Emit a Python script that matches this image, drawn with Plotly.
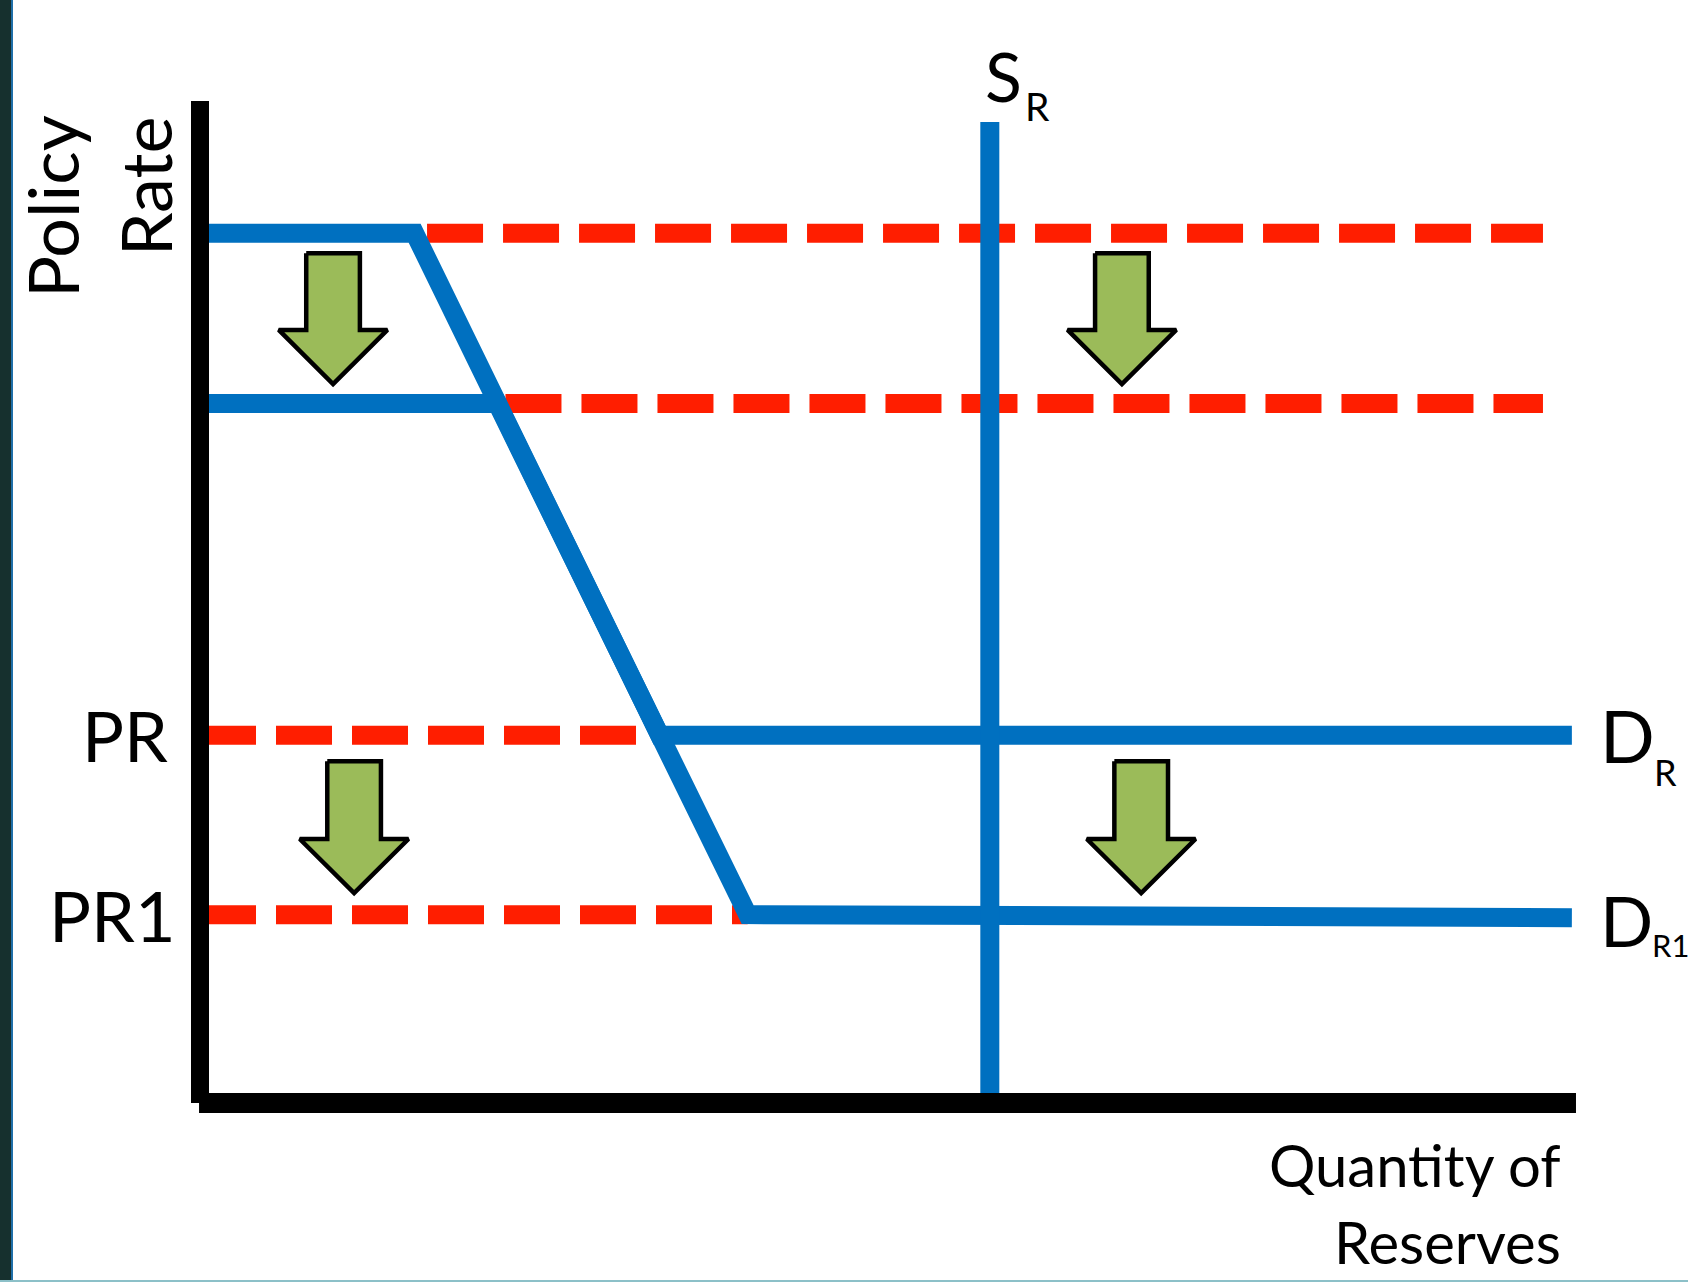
import plotly.graph_objects as go

# ---------------- data (conceptual units: quantity 0..100, rate 0..100) ----------------
# Demand for reserves before (D_R) and after (D_R1) the policy-rate cut
dr_x = [0, 15.6, 33.4, 99.7]
dr_y = [86.8, 86.8, 36.7, 36.7]
dr1_x = [0, 21.6, 39.8, 99.7]
dr1_y = [69.8, 69.8, 18.8, 18.5]

# Supply of reserves (vertical)
sr_x = [57.4, 57.4]
sr_y = [0, 97.9]

# Red dashed reference levels
ref_x0 = [16.5, 22.2, 0.0, 0.0]
ref_x1 = [97.6, 97.6, 33.4, 39.8]
ref_level = [86.8, 69.8, 36.7, 18.8]

# Downward shift arrows: x positions and (from level, to level)
arrow_x = [9.67, 67.0, 11.2, 68.4]
arrow_from = [86.8, 86.8, 36.7, 36.7]
arrow_to = [69.8, 69.8, 18.8, 18.8]

tick_labels = ["PR", "PR1"]
tick_values = [36.7, 18.8]

# ---------------- figure ----------------
W, H = 1688, 1282
BLUE = "#0070C0"
RED = "#FF1E00"
GREEN = "#9BBB59"
FONT = "Lato"

x_range = [-14.535, 108.14]
y_range = [-17.864, 110.08]

fig = go.Figure()

# red dashed lines (below blue)
for x0, x1, lv in zip(ref_x0, ref_x1, ref_level):
    fig.add_trace(go.Scatter(x=[x0, x1], y=[lv, lv], mode="lines",
                             line=dict(color=RED, width=19, dash="56px,20px"),
                             hoverinfo="skip", showlegend=False))

# demand curves
fig.add_trace(go.Scatter(x=dr_x, y=dr_y, mode="lines",
                         line=dict(color=BLUE, width=19), hoverinfo="skip", showlegend=False))
fig.add_trace(go.Scatter(x=dr1_x, y=dr1_y, mode="lines",
                         line=dict(color=BLUE, width=19), hoverinfo="skip", showlegend=False))
# supply
fig.add_trace(go.Scatter(x=sr_x, y=sr_y, mode="lines",
                         line=dict(color=BLUE, width=19), hoverinfo="skip", showlegend=False))

# axes lines
fig.add_trace(go.Scatter(x=[0, 0], y=[100, 0], mode="lines",
                         line=dict(color="black", width=18), hoverinfo="skip", showlegend=False))
fig.add_trace(go.Scatter(x=[-0.07, 100], y=[0, 0], mode="lines",
                         line=dict(color="black", width=20), hoverinfo="skip", showlegend=False))

# arrows
sw, hw, hh = 1.95, 3.95, 5.4
for i, (cx, yf, yt) in enumerate(zip(arrow_x, arrow_from, arrow_to)):
    ytop = yf - (2.0 if i < 2 else 2.6)
    ytip = yt + (1.95 if i < 2 else 2.15)
    xs = [cx - sw, cx + sw, cx + sw, cx + hw, cx, cx - hw, cx - sw, cx - sw]
    ys = [ytop, ytop, ytip + hh, ytip + hh, ytip, ytip + hh, ytip + hh, ytop]
    fig.add_trace(go.Scatter(x=xs, y=ys, mode="lines", fill="toself", fillcolor=GREEN,
                             line=dict(color="black", width=4.5), hoverinfo="skip",
                             showlegend=False))

ann = []
def txt(x, y, t, size, xa="center", ya="middle", angle=0):
    ann.append(dict(x=x, y=y, xref="x", yref="y", text=t, showarrow=False,
                    xanchor=xa, yanchor=ya, textangle=angle,
                    font=dict(family=FONT, size=size, color="black")))

# axis titles
txt(-10.76, 89.52, "Policy", 70, angle=-90)
txt(-3.98, 91.52, "Rate", 70, angle=-90)
txt(99.06, -6.09, "Quantity of", 58, xa="right")
txt(99.06, -13.87, "Reserves", 58, xa="right")

# rate labels
txt(-2.2, tick_values[0], tick_labels[0], 70, xa="right")
txt(-1.6, tick_values[1], tick_labels[1], 70, xa="right")

# curve labels
txt(56.9, 102.5, "S", 68, xa="left")
txt(59.8, 99.5, "R", 39, xa="left")
txt(101.6, 36.7, "D", 72, xa="left")
txt(105.5, 33.0, "R", 36, xa="left")
txt(101.6, 18.26, "D", 70, xa="left")
txt(105.4, 15.77, "R1", 31, xa="left")

shapes = [
    dict(type="rect", xref="paper", yref="paper", x0=0, x1=11 / W, y0=0, y1=1,
         fillcolor="#16302E", line=dict(width=0), layer="above"),
    dict(type="rect", xref="paper", yref="paper", x0=11 / W, x1=13 / W, y0=0, y1=1,
         fillcolor="#1F6FA8", line=dict(width=0), layer="above"),
    dict(type="rect", xref="paper", yref="paper", x0=0, x1=1, y0=0, y1=2 / H,
         fillcolor="#8CC0C8", line=dict(width=0), layer="above"),
]

fig.update_layout(
    width=W, height=H,
    margin=dict(l=0, r=0, t=0, b=0),
    paper_bgcolor="white", plot_bgcolor="white",
    xaxis=dict(range=x_range, visible=False, fixedrange=True),
    yaxis=dict(range=y_range, visible=False, fixedrange=True),
    annotations=ann, shapes=shapes, showlegend=False,
)

fig.write_html("out.html", config={"displayModeBar": False},
               post_script="document.body.style.margin='0';")
